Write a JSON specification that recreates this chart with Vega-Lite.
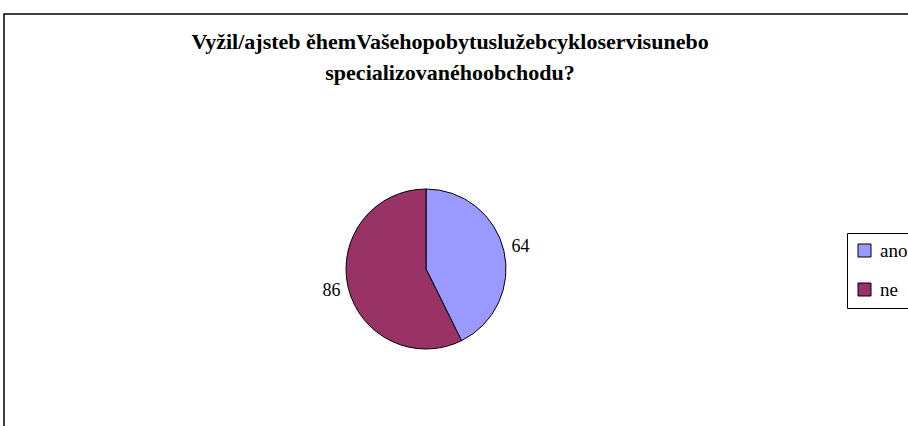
{
  "$schema": "https://vega.github.io/schema/vega-lite/v6.json",
  "width": 1000,
  "height": 600,
  "autosize": {"type": "none"},
  "padding": {"left": 4, "top": 14, "right": 0, "bottom": 0},
  "background": "white",
  "view": {"stroke": "black", "strokeWidth": 1.5, "fill": "white"},
  "config": {
    "view": {"stroke": "black", "strokeWidth": 1.5}
  },
  "title": {
    "text": ["Vyžil/ajsteb  ěhemVašehopobytuslužebcykloservisunebo", "specializovanéhoobchodu?"],
    "font": "Liberation Serif",
    "fontSize": 22,
    "fontWeight": "bold",
    "color": "black",
    "lineHeight": 31,
    "anchor": "middle",
    "frame": "group",
    "dx": -54,
    "dy": 75
  },
  "data": {
    "values": [
      {"odpoved": "ano", "pocet": 64},
      {"odpoved": "ne", "pocet": 86}
    ]
  },
  "layer": [
    {
      "mark": {"type": "arc", "outerRadius": 80, "stroke": "black", "strokeWidth": 1, "xOffset": -78, "yOffset": -45},
      "encoding": {
        "theta": {"field": "pocet", "type": "quantitative", "stack": true},
        "color": {
          "field": "odpoved",
          "type": "nominal",
          "scale": {"domain": ["ano", "ne"], "range": ["#9999FF", "#993366"]},
          "legend": {
            "title": null,
            "orient": "none",
            "legendX": 843,
            "legendY": 219,
            "strokeColor": "black",
            "fillColor": "white",
            "padding": 8,
            "symbolType": "square",
            "symbolSize": 169,
            "symbolStrokeColor": "black",
            "symbolStrokeWidth": 1,
            "labelFont": "Liberation Serif",
            "labelFontSize": 19,
            "labelColor": "black",
            "rowPadding": 19,
            "labelOffset": 6
          }
        },
        "order": {"field": "odpoved"}
      }
    },
    {
      "mark": {"type": "text", "radius": 97, "font": "Liberation Serif", "fontSize": 18, "color": "black", "xOffset": -78, "yOffset": -45},
      "encoding": {
        "theta": {"field": "pocet", "type": "quantitative", "stack": true},
        "text": {"field": "pocet", "type": "quantitative"},
        "order": {"field": "odpoved"}
      }
    }
  ]
}
